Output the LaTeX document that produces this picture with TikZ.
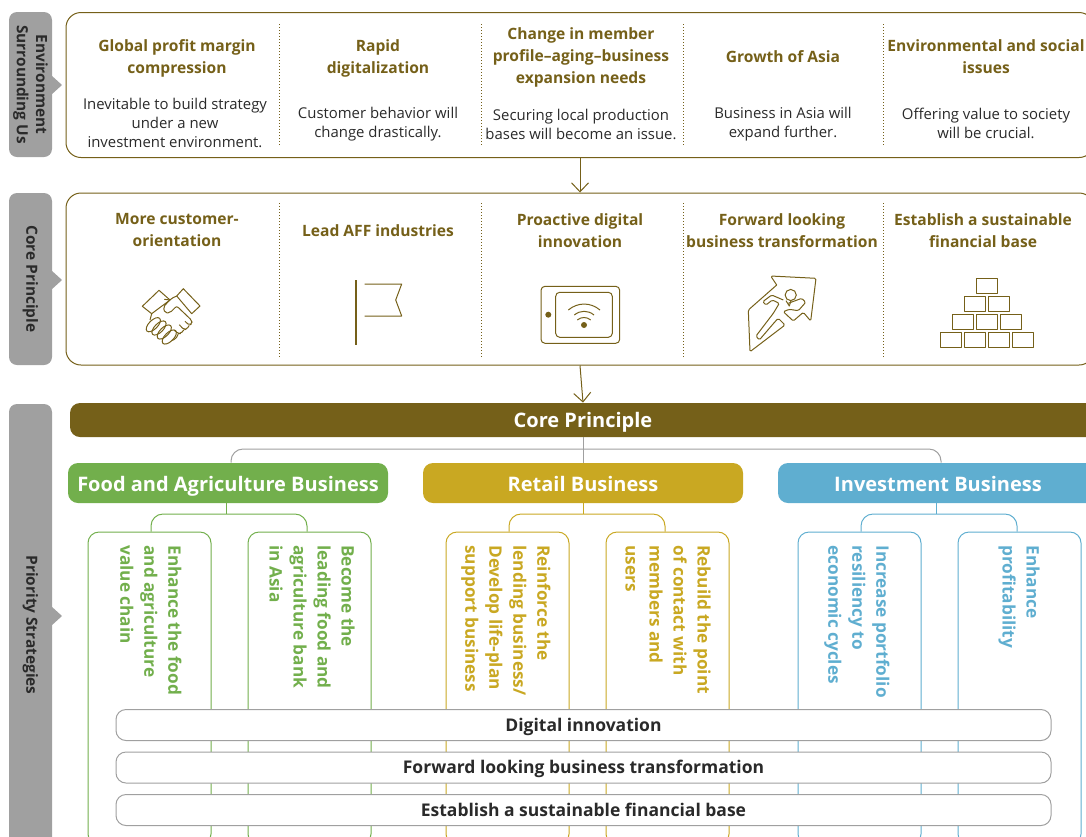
\documentclass[tikz,border=0pt]{standalone}
\usepackage{fontspec}
\setmainfont{Open Sans}
\usetikzlibrary{arrows.meta}
\definecolor{gold}{HTML}{756019}
\definecolor{tagcol}{HTML}{A0A0A0}
\definecolor{bodycol}{HTML}{2A2A2A}
\definecolor{foodcol}{HTML}{72AF4C}
\definecolor{retailcol}{HTML}{C9A822}
\definecolor{investcol}{HTML}{5FAED0}
\tikzset{
  tagbox/.style={fill=tagcol,rounded corners=4pt,minimum width=21.5pt,inner sep=0pt},
  tagtext/.style={rotate=-90,font=\fontsize{7.7}{9.5}\selectfont\bfseries,text=bodycol,align=center,inner sep=0pt},
  panel/.style={draw=gold,rounded corners=7.5pt,line width=0.5pt,minimum width=514pt,inner sep=0pt},
  head/.style={text=gold,font=\fontsize{7.8}{11}\selectfont\bfseries,align=center,inner sep=0pt},
  bodytext/.style={text=bodycol,font=\fontsize{7.45}{9.5}\selectfont,align=center,inner sep=0pt},
  divider/.style={gold,densely dotted,line width=0.5pt},
  bizbox/.style={rounded corners=5pt,minimum width=160pt,minimum height=20pt,inner sep=0pt,text=white,text height=10pt,text depth=2pt,font=\fontsize{10}{12}\selectfont\bfseries},
  leafbox/.style={draw,fill=white,rounded corners=5.5pt,line width=0.5pt,minimum width=61.5pt,minimum height=156.5pt,inner sep=0pt},
  leaftext/.style={rotate=-90,anchor=north west,align=left,inner sep=0pt,font=\fontsize{8.6}{12}\selectfont\bfseries},
  band/.style={draw=tagcol,fill=white,rounded corners=5pt,line width=0.5pt,minimum width=467.5pt,minimum height=15.5pt,inner sep=0pt,text=bodycol,text height=8pt,text depth=2pt,font=\fontsize{8.75}{10}\selectfont\bfseries},
  icon/.style={gold,line width=0.5pt,line join=round},
  branch/.style={line width=0.5pt,rounded corners=6pt},
  flow/.style={gold,line width=0.5pt,-{Straight Barb[length=4.5pt,width=8.5pt]}},
}
\begin{document}
\begin{tikzpicture}[x=0.5pt,y=-0.5pt]
  \useasboundingbox (0,0) rectangle (1086,836);
  \clip (0,0) rectangle (1086,836);
  % side tags
  \node[tagbox,minimum height=72.5pt] (tagenv) at (30.5,84.5) {};
  \fill[tagcol] (51,75) -- (62,85) -- (51,95) -- cycle;
  \node[tagtext] at (tagenv) {Environment\\Surrounding Us};
  \node[tagbox,minimum height=86pt] (tagcore) at (30.5,279) {};
  \fill[tagcol] (51,270) -- (62,280) -- (51,290) -- cycle;
  \node[tagtext] at (tagcore) {Core Principle};
  \node[tagbox,minimum height=250pt] (tagprio) at (30.5,654) {};
  \fill[tagcol] (51,606) -- (62,616) -- (51,626) -- cycle;
  \node[tagtext] at (30.5,625) {Priority Strategies};
  % upper panel
  \node[panel,minimum height=72.5pt] (envbox) at (580,85) {};
  \draw[divider] (279,24) -- (279,146);
  \draw[divider] (481,24) -- (481,146);
  \draw[divider] (683,24) -- (683,146);
  \draw[divider] (883,24) -- (883,146);
  \node[head] at (177,58) {Global profit margin\\compression};
  \node[head] at (378,58) {Rapid\\digitalization};
  \node[head] at (581,57.5) {Change in member\\profile–aging–business\\expansion needs};
  \node[head] at (783,57) {Growth of Asia};
  \node[head] at (986,57) {Environmental and social\\issues};
  \node[bodytext] at (175,122.5) {Inevitable to build strategy\\under a new\\investment environment.};
  \node[bodytext] at (378,124) {Customer behavior will\\change drastically.};
  \node[bodytext] at (581,124) {Securing local production\\bases will become an issue.};
  \node[bodytext] at (783,124) {Business in Asia will\\expand further.};
  \node[bodytext] at (986,123.5) {Offering value to society\\will be crucial.};
  % second panel
  \node[panel,minimum height=86pt] (corebox) at (580,279) {};
  \draw[divider] (279,203) -- (279,358);
  \draw[divider] (481,203) -- (481,358);
  \draw[divider] (683,203) -- (683,358);
  \draw[divider] (883,203) -- (883,358);
  \node[head] at (177,230.5) {More customer-\\orientation};
  \node[head] at (378,230.5) {Lead AFF industries};
  \node[head] at (580,230.5) {Proactive digital\\innovation};
  \node[head] at (782,230.5) {Forward looking\\business transformation};
  \node[head] at (983,230.5) {Establish a sustainable\\financial base};
  \draw[flow] (envbox) ++(0,73) -- (corebox.north);
  % handshake
  \draw[icon] (142.3,306.3) -- (159,290.3) -- (170,300) -- (151.7,313.7) -- cycle;
  \draw[icon] (176.7,296) -- (183.3,288.7) -- (200,306) -- (191.7,313.7) -- cycle;
  \draw[icon,rounded corners=1pt] (176.7,296) -- (171,298.7) -- (163.3,307) -- (165,313) -- (170,312.7) -- (176.7,306) -- (191.7,320.3) -- (192.3,323.7) -- (189.3,325.3) -- (185,321.3);
  \draw[icon,rounded corners=1pt] (189.3,325.3) -- (186.7,329.3) -- (184,329.7) -- (179.3,324.7);
  \draw[icon,rounded corners=1pt] (184,329.7) -- (180.7,333.7) -- (178.3,333.7) -- (174.3,330.3);
  \draw[icon,rounded corners=1pt] (178.3,333.7) -- (175.7,339.3) -- (171.7,340.3);
  \draw[icon] (170,300) -- (164.3,299.3);
  \draw[icon] (151.7,313.7) -- (150,320);
  \draw[icon] (153.3,324.7) circle [x radius=4.5pt,y radius=2.2pt,rotate=45];
  \draw[icon] (159,328) circle [x radius=4.5pt,y radius=2.2pt,rotate=45];
  \draw[icon] (164.3,332) circle [x radius=4.5pt,y radius=2.2pt,rotate=45];
  \draw[icon] (169.3,337) circle [x radius=4.5pt,y radius=2.2pt,rotate=45];
  % flag
  \draw[gold,line width=0.7pt] (356,280) -- (356,345);
  \draw[icon] (364.5,284) -- (401.7,284) -- (395.7,300) -- (401.7,316) -- (364.5,316);
  % tablet
  \draw[icon,rounded corners=2pt] (541,286.3) rectangle (619.7,343.3);
  \draw[icon,rounded corners=2pt] (555.7,292.3) rectangle (612.3,337.3);
  \fill[gold] (548.3,314.7) circle (1.5pt);
  \fill[gold] (584,325) circle (1.5pt);
  \draw[icon] (568.3,310) to[bend left=40] (600,310);
  \draw[icon] (574.3,315) to[bend left=40] (594,315);
  \draw[icon] (577.3,320) to[bend left=40] (590.7,320);
  % runner
  \draw[icon,rounded corners=0.7pt] (776.7,285) -- (770.7,276) -- (816,278.3) -- (810.7,321) -- (803.3,312.3) -- (793.3,321) -- (783.3,311.7) -- (789.3,309.3) -- (798.3,310.7) -- (805.7,302.3) -- (801.7,298.3) -- (788.3,303.3);
  \draw[icon,rounded corners=0.7pt] (776.7,285) -- (748.3,310) -- (750,351.7) -- (785,325) -- (778.3,318.3) -- (775,321.7) -- (759.3,340) -- (756,336) -- (773.3,313.3) -- (779.3,303.3) -- (772.3,300) -- (766,305) -- (762.7,301.7) -- (771.7,295) -- (783.3,300);
  \draw[icon] (790.7,295) circle (2.8pt);
  \draw[icon] (786,300.7) -- (789.3,306) -- (791,300.7);
  % pyramid
  \draw[icon] (976,278) rectangle (997,293);
  \draw[icon] (964,296) rectangle (985,311);
  \draw[icon] (988,296) rectangle (1009,311);
  \draw[icon] (952,314) rectangle (973,329);
  \draw[icon] (976,314) rectangle (997,329);
  \draw[icon] (1000,314) rectangle (1021,329);
  \draw[icon] (940,332) rectangle (961,347);
  \draw[icon] (964,332) rectangle (985,347);
  \draw[icon] (988,332) rectangle (1009,347);
  \draw[icon] (1012,332) rectangle (1033,347);
  % strategies
  \node[fill=gold,rounded corners=5pt,minimum width=513pt,minimum height=17pt,inner sep=0pt,text=white,text height=9.5pt,text depth=2.5pt,font=\fontsize{10}{12}\selectfont\bfseries] (corebar) at (583,420) {Core Principle};
  \draw[flow] (corebox.south) -- (corebar.north);
  \node[bizbox,fill=foodcol] (food) at (228,483) {Food and Agriculture Business};
  \node[bizbox,fill=retailcol] (retail) at (583,483) {Retail Business};
  \node[bizbox,fill=investcol] (invest) at (938,483) {Investment Business};
  \draw[tagcol,line width=0.5pt] (corebar.south) -- (retail.north);
  \draw[tagcol,branch] ([xshift=1.5pt]food.north) |- (583,449) -| ([xshift=1.5pt]invest.north);
  % food
  \node[leafbox,draw=foodcol] (foodone) at (149.5,688.5) {};
  \node[leafbox,draw=foodcol] (foodtwo) at (309.5,688.5) {};
  \draw[foodcol,line width=0.5pt] ([xshift=-1pt]food.south) -- ++(0,11);
  \draw[foodcol,branch] ([xshift=0.75pt]foodone.north) |- (228,514) -| ([xshift=-1.25pt]foodtwo.north);
  \node[leaftext,text=foodcol] at (182,545) {Enhance the food\\and agriculture\\value chain};
  \node[leaftext,text=foodcol] at (355,545) {Become the\\leading food and\\agriculture bank\\in Asia};
  % retail
  \node[leafbox,draw=retailcol] (retailone) at (507.5,688.5) {};
  \node[leafbox,draw=retailcol] (retailtwo) at (667.5,688.5) {};
  \draw[retailcol,line width=0.5pt] (retail.south) -- ++(0,11);
  \draw[retailcol,branch] ([xshift=0.75pt]retailone.north) |- (587,514) -| ([xshift=-1.25pt]retailtwo.north);
  \node[leaftext,text=retailcol] at (551,545) {Reinforce the\\lending business/\\Develop life-plan\\support business};
  \node[leaftext,text=retailcol] at (711,545) {Rebuild the point\\of contact with\\members and\\users};
  % invest
  \node[leafbox,draw=investcol] (investone) at (859.5,688.5) {};
  \node[leafbox,draw=investcol] (investtwo) at (1019.5,688.5) {};
  \draw[investcol,line width=0.5pt] ([xshift=-1pt]invest.south) -- ++(0,11);
  \draw[investcol,branch] ([xshift=0.75pt]investone.north) |- (938,514) -| ([xshift=-1.25pt]investtwo.north);
  \node[leaftext,text=investcol] at (890,545) {Increase portfolio\\resiliency to\\economic cycles};
  \node[leaftext,text=investcol] at (1040,545) {Enhance\\profitability};
  % bands
  \node[band] (digital) at (583.5,725) {Digital innovation};
  \node[band] (forward) at (583.5,767.5) {Forward looking business transformation};
  \node[band] (financial) at (583.5,810) {Establish a sustainable financial base};
\end{tikzpicture}
\end{document}
